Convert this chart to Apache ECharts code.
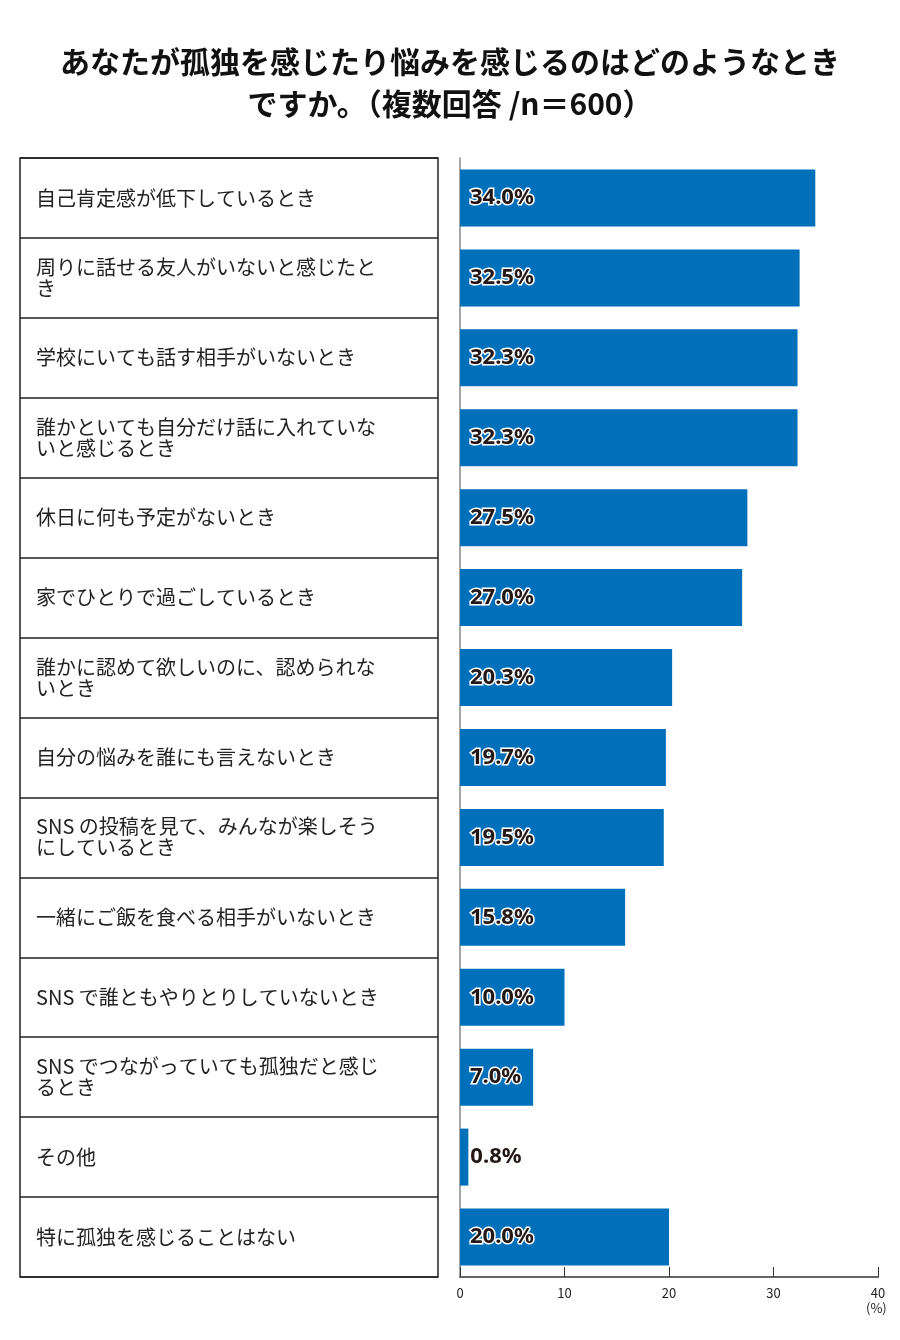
<!DOCTYPE html>
<html>
<head>
<meta charset="utf-8">
<script src="https://cdn.jsdelivr.net/npm/echarts@6/dist/echarts.min.js"></script>
<style>html,body{margin:0;padding:0;background:#fff}#chart{width:900px;height:1340px}</style>
</head>
<body>
<div id="chart"></div>
<script>
// 項目（折り返し位置は元図に合わせる）
var categories = [
    '自己肯定感が低下しているとき',
    '周りに話せる友人がいないと感じたと\nき',
    '学校にいても話す相手がいないとき',
    '誰かといても自分だけ話に入れていな\nいと感じるとき',
    '休日に何も予定がないとき',
    '家でひとりで過ごしているとき',
    '誰かに認めて欲しいのに、認められな\nいとき',
    '自分の悩みを誰にも言えないとき',
    'SNS の投稿を見て、みんなが楽しそう\nにしているとき',
    '一緒にご飯を食べる相手がいないとき',
    'SNS で誰ともやりとりしていないとき',
    'SNS でつながっていても孤独だと感じ\nるとき',
    'その他',
    '特に孤独を感じることはない'
];
var values = [34.0, 32.5, 32.3, 32.3, 27.5, 27.0, 20.3, 19.7, 19.5, 15.8, 10.0, 7.0, 0.8, 20.0];
var xTicks = [0, 10, 20, 30, 40];

var myChart = echarts.init(document.getElementById('chart'));

var barData = values.map(function (v) {
    var item = {value: v};
    if (v < 3) {
        item.label = {position: 'right', distance: 2, textBorderWidth: 0};
    }
    return item;
});

var option = {
    backgroundColor: '#fff',
    animation: false,
    title: {
        text: 'あなたが孤独を感じたり悩みを感じるのはどのようなとき\nですか。（複数回答 /n＝600）',
        left: 'center',
        top: 36,
        textStyle: {
            fontFamily: 'Noto Sans CJK JP',
            fontSize: 30,
            fontWeight: 'bold',
            color: '#111',
            lineHeight: 42
        }
    },
    grid: [
        {left: 460, right: 22, top: 158, height: 1119},
        {left: 20, width: 418, top: 158, height: 1119, show: true, borderColor: '#222', borderWidth: 1.5, backgroundColor: 'transparent'}
    ],
    xAxis: [
        {
            gridIndex: 0, type: 'value', min: 0, max: 40, interval: 10,
            axisLine: {show: true, lineStyle: {color: '#666', width: 2}},
            axisTick: {show: true, inside: true, length: 10, lineStyle: {color: '#333'}},
            splitLine: {show: false},
            axisLabel: {
                fontFamily: 'Noto Sans CJK JP', fontSize: 13, color: '#222', margin: 10,
                formatter: function (v) { return xTicks.indexOf(v) >= 0 ? String(v) : ''; }
            }
        },
        {gridIndex: 1, type: 'value', min: 0, max: 1, show: false}
    ],
    yAxis: [
        {
            gridIndex: 0, type: 'category', data: categories, inverse: true,
            axisLine: {show: true, lineStyle: {color: '#888', width: 1.5}},
            axisTick: {show: false}, axisLabel: {show: false}
        },
        {
            gridIndex: 1, type: 'category', data: categories, inverse: true,
            axisLine: {show: false}, axisTick: {show: false},
            splitLine: {show: true, interval: 0, lineStyle: {color: '#222', width: 1.5}},
            axisLabel: {
                inside: true, margin: 16, align: 'left',
                fontFamily: 'Noto Sans CJK JP', fontSize: 20, color: '#222', lineHeight: 21
            }
        }
    ],
    series: [{
        type: 'bar',
        xAxisIndex: 0, yAxisIndex: 0,
        data: barData,
        barWidth: 57,
        itemStyle: {color: '#0070BB'},
        label: {
            show: true,
            position: 'insideLeft',
            distance: 10,
            formatter: function (p) { return p.value.toFixed(1) + '%'; },
            fontFamily: 'Noto Sans', fontSize: 22, fontWeight: 'bold',
            color: '#231815', textBorderColor: '#fff', textBorderWidth: 3
        }
    }],
    graphic: [{
        type: 'text', left: 866, top: 1302,
        style: {text: '(%)', font: '13px "Noto Sans CJK JP"', fill: '#222'}
    }]
};

myChart.setOption(option);
</script>
</body>
</html>
